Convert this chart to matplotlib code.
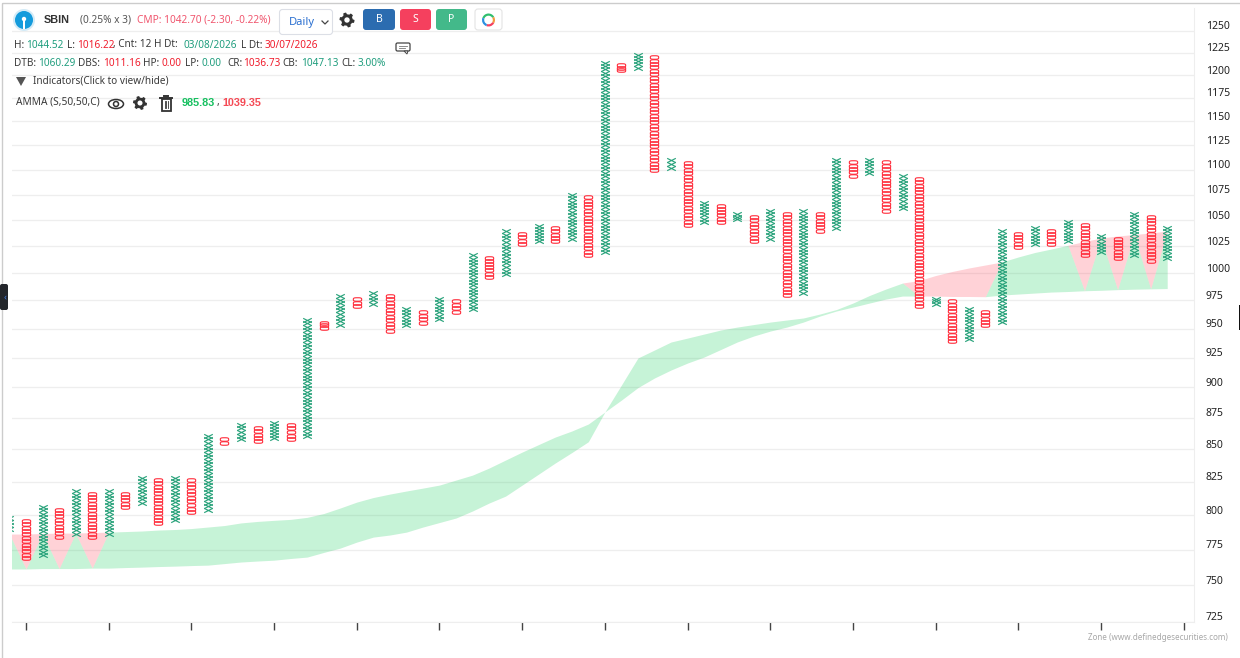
import numpy as np
import matplotlib
matplotlib.use("Agg")
import matplotlib.pyplot as plt
from matplotlib.patches import Circle, FancyBboxPatch, Polygon, Rectangle, Wedge, Ellipse
from matplotlib.path import Path
from matplotlib.transforms import Affine2D

plt.rcParams['font.family'] = ['Noto Sans', 'DejaVu Sans']

# point & figure columns, first one is an X column cut by the left edge, then they alternate
col_top = [799.3, 797.3, 807.5, 805.5, 819.5, 817.5, 819.5, 817.5, 829.6, 827.8, 829.6, 827.8,
           862.1, 859.7, 870.9, 868.5, 872.5, 870.9, 959.4, 957.0, 980.8, 978.4, 983.5, 981.1,
           968.9, 966.5, 978.4, 976.1, 1018.3, 1016.1, 1041.1, 1038.8, 1046.2, 1044.0, 1076.5,
           1074.2, 1216.1, 1213.2, 1225.1, 1222.2, 1111.8, 1109.0, 1068.6, 1066.0, 1057.8, 1055.2,
           1060.8, 1057.8, 1060.5, 1057.8, 1111.8, 1109.5, 1111.8, 1109.5, 1095.2, 1092.8, 978.4,
           976.1, 968.9, 966.5, 1041.1, 1038.8, 1044.0, 1041.7, 1050.1, 1046.9, 1036.3, 1033.7,
           1057.8, 1055.2, 1044.0]
col_bottom = [788.4, 767.5, 769.7, 782.8, 785.0, 782.8, 785.0, 804.7, 807.5, 792.7, 794.9, 800.8,
              802.5, 853.4, 856.6, 855.0, 857.3, 856.6, 858.9, 949.1, 951.7, 968.0, 970.3, 946.5,
              951.7, 953.5, 956.5, 963.2, 965.8, 994.8, 997.2, 1025.2, 1027.8, 1027.8, 1030.2,
              1014.9, 1017.7, 1203.2, 1206.1, 1097.2, 1099.9, 1043.0, 1046.5, 1046.5, 1049.1, 1027.8,
              1030.2, 977.9, 980.2, 1037.8, 1040.7, 1091.8, 1094.8, 1057.2, 1059.8, 968.0, 970.3,
              937.3, 939.5, 951.2, 953.8, 1022.6, 1025.2, 1025.2, 1027.8, 1014.9, 1017.7, 1012.3,
              1014.9, 1009.5, 1012.3]

# AMMA band edges, one value per column
band_upper = [786.2, 786.2, 786.6, 786.9, 786.9, 787.3, 787.6, 788.0, 788.4, 789.1, 789.5, 790.2,
              791.3, 792.4, 794.3, 795.4, 796.2, 796.9, 798.4, 801.2, 805.3, 809.7, 813.1, 815.7,
              818.0, 820.2, 822.5, 826.3, 830.1, 835.5, 841.7, 847.9, 853.8, 859.7, 864.5, 870.1,
              879.8, 901.9, 924.7, 931.5, 938.4, 941.8, 945.3, 948.8, 951.4, 953.6, 955.8, 957.6,
              959.4, 962.9, 966.9, 972.7, 979.5, 985.4, 990.8, 993.1, 997.7, 1001.4, 1004.6, 1007.4,
              1010.2, 1014.9, 1019.1, 1022.4, 1025.9, 1029.5, 1032.8, 1034.7, 1036.1, 1037.6, 1039.4]
band_lower = [761.3, 761.3, 761.6, 761.6, 761.6, 761.9, 761.9, 762.3, 762.6, 763.0, 763.3, 763.7,
              764.0, 765.1, 766.2, 766.9, 767.5, 768.7, 769.7, 773.0, 776.1, 780.4, 784.0, 785.5,
              787.6, 791.3, 794.6, 797.9, 803.1, 809.0, 814.2, 822.5, 830.9, 839.4, 847.5, 856.0,
              879.8, 889.5, 899.8, 907.8, 914.5, 920.4, 925.5, 931.9, 938.4, 943.6, 947.9, 951.4,
              955.8, 961.1, 965.6, 969.1, 972.7, 976.3, 979.0, 979.0, 979.0, 978.6, 978.6, 978.4,
              979.9, 980.8, 981.7, 982.6, 983.1, 983.8, 984.2, 984.8, 985.2, 985.5, 985.8]
# columns where the bearish side of the band is open, apex on the lower edge
red_cols = [0, 2, 4, 54, 55, 56, 57, 58, 64, 66, 68]

ytick_vals = [725, 750, 775, 800, 825, 850, 875, 900, 925, 950, 975, 1000, 1025, 1050, 1075, 1100,
              1125, 1150, 1175, 1200, 1225, 1250]
xtick_cols = list(range(0, 71, 5))

GREEN = '#2ba37c'
RED = '#ff2b3a'
GRID = '#eeeeee'
TEAL = '#1f9d7d'
CRIMSON = '#f01c2c'
DARK = '#3a3a3a'

fig = plt.figure(figsize=(12.4, 6.58), dpi=100)
ax = fig.add_axes([12 / 1240, 1 - 622 / 658, (1194 - 12) / 1240, (622 - 8) / 658])
ax.set_yscale('log')
ax.set_ylim(725.0, 1276.6)
ax.set_xlim(-0.846, 70.62)

ax.grid(axis='y', color=GRID, lw=0.9)
ax.set_axisbelow(True)
for s in ['top', 'left']:
    ax.spines[s].set_visible(False)
ax.spines['right'].set_color(GRID)
ax.spines['bottom'].set_color(GRID)

ax.yaxis.tick_right()
ax.set_yticks(ytick_vals)
ax.set_yticklabels([str(v) for v in ytick_vals], fontsize=7.5, color='#222222')
ax.minorticks_off()
ax.tick_params(axis='y', length=0, pad=8.5)
for lab in ax.get_yticklabels():
    lab.set_verticalalignment('bottom')
    lab.set_transform(lab.get_transform() + Affine2D().translate(0, -1.5))
ax.set_xticks(xtick_cols)
ax.set_xticklabels([])
ax.tick_params(axis='x', length=6, width=1, color='#444444')

# band
cols = np.arange(-1, 70)
upper = np.array(band_upper)
lower = np.array(band_lower)
split = np.where(np.isin(cols, red_cols), lower, upper)
ax.fill_between(cols, lower, split, color='#34d470', alpha=0.28, lw=0, zorder=2)
ax.fill_between(cols, split, upper, color='#ff5e70', alpha=0.28, lw=0, zorder=2)

# X and O marks, the O is squared off so that a stack keeps straight sides
x_mark = Path([(-1, -0.5), (1, 0.5), (-1, 0.5), (1, -0.5)],
              [Path.MOVETO, Path.LINETO, Path.MOVETO, Path.LINETO])
theta = np.linspace(0, 2 * np.pi, 60)
o_mark = Path(np.column_stack([np.sign(np.cos(theta)) * np.abs(np.cos(theta)) ** 0.6,
                               0.42 * np.sign(np.sin(theta)) * np.abs(np.sin(theta)) ** 0.6]))
step = 1.0032
for k, (top, bot) in enumerate(zip(col_top, col_bottom)):
    c = k - 1
    n = int(round(np.log(top / bot) / np.log(step)))
    marks = np.geomspace(bot * step ** 0.55, top / step ** 0.55, max(n, 2))
    if k % 2 == 0:
        ax.plot([c] * len(marks), marks, ls='none', marker=x_mark, ms=6.2, mfc='none',
                mec=GREEN, mew=0.85, zorder=3)
    else:
        ax.plot([c] * len(marks), marks, ls='none', marker=o_mark, ms=6.0, mfc='none',
                mec=RED, mew=0.8, zorder=3)

# everything above the chart lives in an overlay in pixel coordinates
ui = fig.add_axes([0, 0, 1, 1], zorder=5)
ui.set_xlim(0, 1240)
ui.set_ylim(658, 0)
ui.axis('off')
ui.patch.set_alpha(0)


def seg_row(y, parts, size=7.2):
    for x, s, col in parts:
        ui.text(x, y, s, color=col, fontsize=size, va='center', ha='left')


def gear(x, y, r=7.5, col='#333333'):
    a = np.linspace(0, 2 * np.pi, 48, endpoint=False)
    rad = np.where(np.arange(48) % 8 < 4, r, r * 0.76)
    ui.add_patch(Polygon(np.column_stack([x + rad * np.cos(a), y + rad * np.sin(a)]), color=col, lw=0))
    ui.add_patch(Circle((x, y), r * 0.36, color='white', lw=0))


# page frame
ui.add_patch(Rectangle((2, 3), 1240, 700, fc='none', ec='#cccccc', lw=1))
ui.add_patch(FancyBboxPatch((0, 284), 8, 26, boxstyle='round,pad=0,rounding_size=2', fc='#23262b', ec='none'))
ui.text(5, 297, '‹', color='#3f7be0', fontsize=7, ha='center', va='center')
ui.add_patch(Rectangle((1238.5, 305), 2, 25, fc='#111111', ec='none'))

# logo
ui.add_patch(Circle((24, 20), 11, fc='#d4ebf7', ec='none'))
ui.add_patch(Circle((24, 20), 9, fc='#149bdc', ec='none'))
ui.add_patch(Circle((24, 19), 2.2, fc='white', ec='none'))
ui.add_patch(Rectangle((23.3, 19), 1.4, 10, fc='white', ec='none'))

ui.text(44, 20, 'SBIN', fontsize=7.8, family='Liberation Sans', fontweight='bold', color='#333333', va='center')
ui.text(80, 20, '(0.25% x 3)', fontsize=7.3, color='#555555', va='center')
ui.text(137, 20, 'CMP: 1042.70 (-2.30, -0.22%)', fontsize=7.3, color='#f0566e', va='center')

# period select and buttons
ui.add_patch(FancyBboxPatch((279.5, 9.5), 53, 25, boxstyle='round,pad=0,rounding_size=3', fc='white', ec='#dcdfe6', lw=0.8))
ui.text(289, 23, 'Daily', fontsize=8, color='#2a6fd0', va='center')
ui.plot([322, 325, 328], [21, 24, 21], color='#444444', lw=0.9)
gear(347, 20)
for x0, w, col, lab in [(363, 32, '#2b6cb0', 'B'), (400, 31, '#f5405e', 'S'), (436, 31, '#43b98a', 'P')]:
    ui.add_patch(FancyBboxPatch((x0, 9), w, 21, boxstyle='round,pad=0,rounding_size=3', fc=col, ec='none'))
    ui.text(x0 + w / 2, 19.5, lab, color='white', fontsize=7.5, ha='center', va='center')
ui.add_patch(FancyBboxPatch((475, 9), 27, 21, boxstyle='round,pad=0,rounding_size=3', fc='white', ec='#e4e4e4', lw=0.8))
for a0, a1, col in [(200, 330, '#2fbf6e'), (330, 390, '#f29a3d'), (30, 110, '#f5405e'), (110, 200, '#2b8fe0')]:
    ui.add_patch(Wedge((488.5, 20), 6.5, a0, a1, width=2.2, fc=col, ec='none'))

# info rows
seg_row(45, [(14, 'H:', DARK), (26, '1044.52', TEAL), (67, 'L:', DARK), (77, '1016.22', CRIMSON),
             (113, ', Cnt: 12 H Dt:', DARK), (183, '03/08/2026', TEAL), (241, 'L Dt:', DARK),
             (265, '30/07/2026', CRIMSON)])
seg_row(64, [(14, 'DTB:', DARK), (38, '1060.29', TEAL), (78, 'DBS:', DARK), (103, '1011.16', CRIMSON),
             (143, 'HP:', DARK), (162, '0.00', CRIMSON), (185, 'LP:', DARK), (201, '0.00', TEAL),
             (227, 'CR:', DARK), (243, '1036.73', CRIMSON), (282, 'CB:', DARK), (301, '1047.13', TEAL),
             (341, 'CL:', DARK), (358, '3.00%', TEAL)])
ui.add_patch(Polygon([(16, 77), (26, 77), (21, 86)], color='#555555', lw=0))
ui.text(33, 81, 'Indicators(Click to view/hide)', fontsize=7.2, color=DARK, va='center')
ui.text(16, 102.5, 'AMMA (S,50,50,C)', fontsize=7.3, color=DARK, va='center')

# eye, gear, trash
ui.add_patch(Ellipse((116, 104), 15, 9, fc='white', ec='#333333', lw=1.1))
ui.add_patch(Circle((116, 104), 2.5, fc='white', ec='#333333', lw=1.1))
gear(140, 103, r=7)
ui.add_patch(Rectangle((161.5, 99), 9, 11.5, fc='white', ec='#333333', lw=1.3))
ui.plot([160, 172], [97.5, 97.5], color='#333333', lw=1.4)
ui.plot([164, 168], [95.5, 95.5], color='#333333', lw=1.4)
for xb in [164.5, 166, 167.5]:
    ui.plot([xb, xb], [101, 108], color='#333333', lw=0.6)

ui.text(182, 102.5, '985.83', fontsize=7.8, family='Liberation Sans', fontweight='bold', color='#16c060', va='center')
ui.text(217, 103, ',', fontsize=7.5, color=DARK, va='center')
ui.text(222, 102.5, '1039.35', fontsize=7.8, family='Liberation Sans', fontweight='bold', color='#f54a55', va='center')

# comment bubble
ui.add_patch(FancyBboxPatch((396, 43), 14, 8, boxstyle='round,pad=0,rounding_size=1.5', fc='white', ec='#444444', lw=0.9))
ui.add_patch(Polygon([(404, 51), (408, 51), (407, 54)], fc='white', ec='#444444', lw=0.7))
ui.plot([399, 407], [45.5, 45.5], color='#777777', lw=0.6)
ui.plot([399, 405], [48, 48], color='#777777', lw=0.6)

ui.text(1088, 637, 'Zone (www.definedgesecurities.com)', fontsize=5.8, color='#a8a8a8', va='center')

fig.savefig('out.png', dpi=100)
